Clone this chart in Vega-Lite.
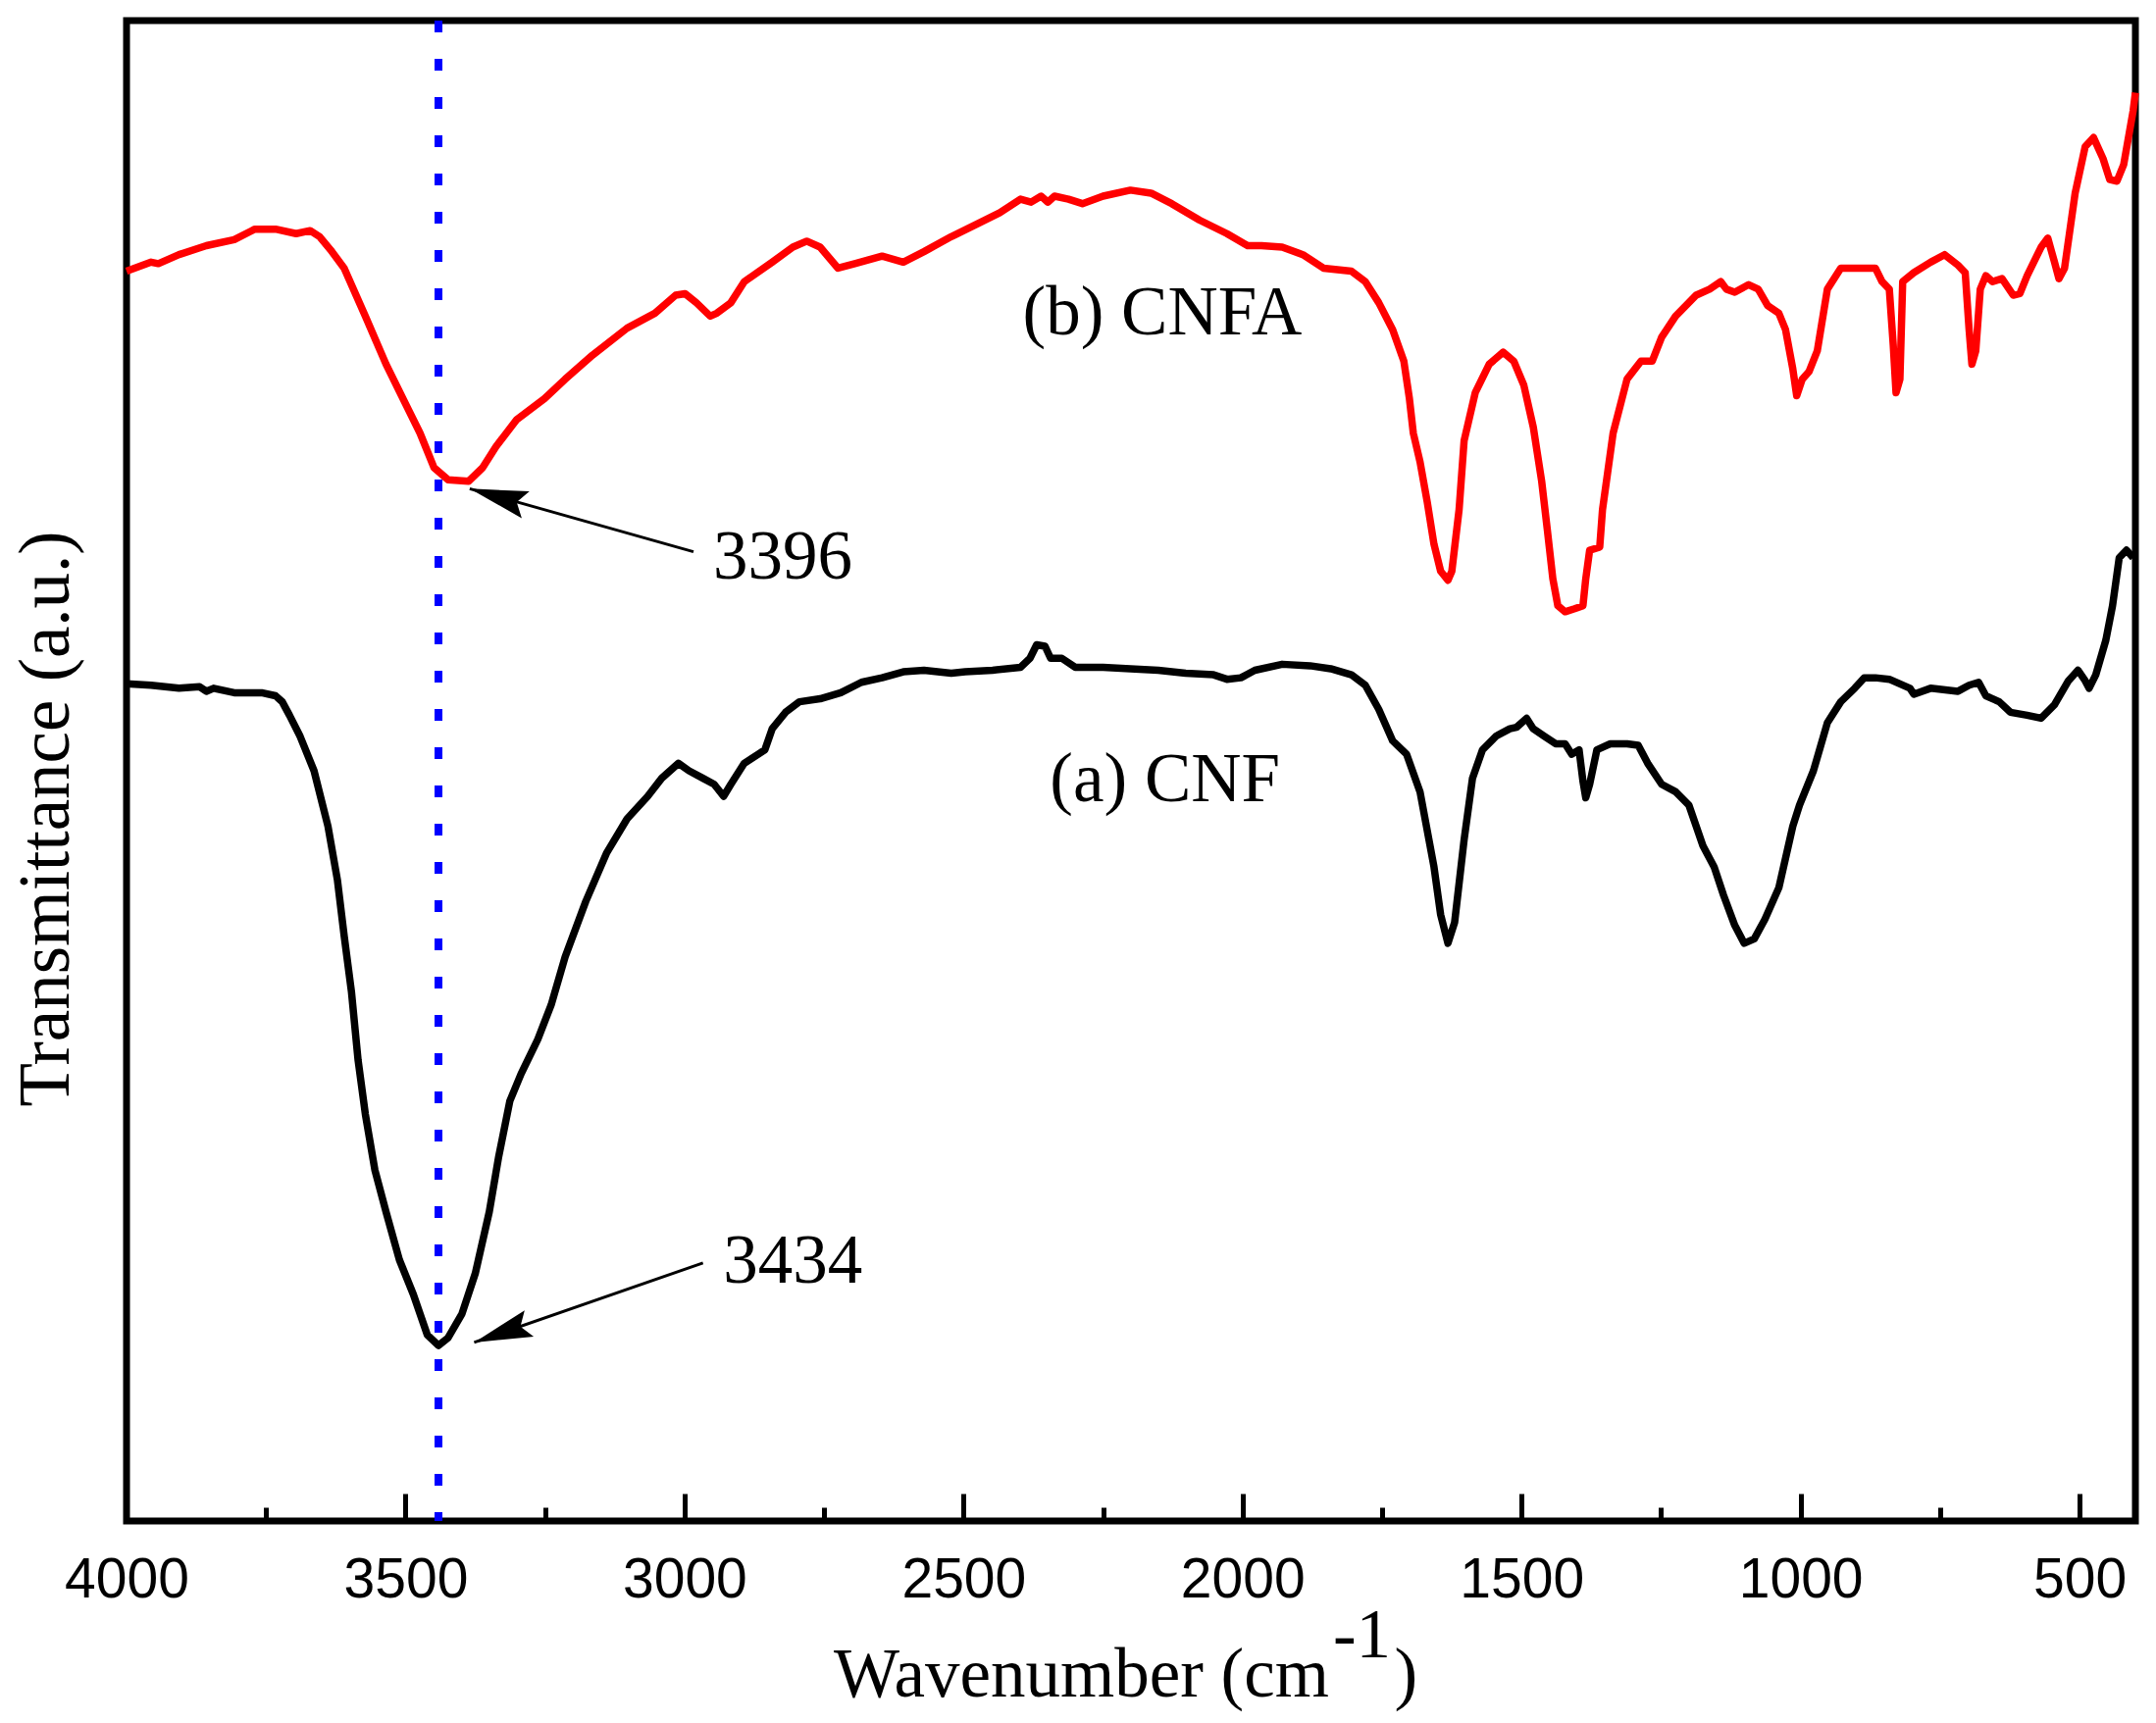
{
  "$schema": "https://vega.github.io/schema/vega-lite/v6.json",
  "description": "FTIR spectra of CNF and CNFA",
  "width": 2048,
  "height": 1530,
  "autosize": {"type": "none"},
  "padding": {"left": 129, "top": 21, "right": 21, "bottom": 206},
  "background": "white",
  "datasets": {
    "cnfa": [
      {"wn": 4000, "t": 83.3}, {"wn": 3956, "t": 83.9}, {"wn": 3943, "t": 83.8}, {"wn": 3906, "t": 84.4},
      {"wn": 3857, "t": 85.0}, {"wn": 3807, "t": 85.4}, {"wn": 3770, "t": 86.1}, {"wn": 3733, "t": 86.1},
      {"wn": 3696, "t": 85.8}, {"wn": 3671, "t": 86.0}, {"wn": 3654, "t": 85.6}, {"wn": 3634, "t": 84.7},
      {"wn": 3610, "t": 83.5}, {"wn": 3572, "t": 80.3}, {"wn": 3535, "t": 77.1}, {"wn": 3498, "t": 74.3},
      {"wn": 3474, "t": 72.5}, {"wn": 3449, "t": 70.2}, {"wn": 3424, "t": 69.4}, {"wn": 3387, "t": 69.3},
      {"wn": 3362, "t": 70.2}, {"wn": 3338, "t": 71.6}, {"wn": 3301, "t": 73.4}, {"wn": 3251, "t": 74.8},
      {"wn": 3214, "t": 76.1}, {"wn": 3165, "t": 77.7}, {"wn": 3103, "t": 79.5}, {"wn": 3053, "t": 80.5},
      {"wn": 3016, "t": 81.7}, {"wn": 2999, "t": 81.8}, {"wn": 2979, "t": 81.2}, {"wn": 2954, "t": 80.3},
      {"wn": 2942, "t": 80.5}, {"wn": 2917, "t": 81.2}, {"wn": 2893, "t": 82.6}, {"wn": 2843, "t": 83.9},
      {"wn": 2806, "t": 84.9}, {"wn": 2781, "t": 85.3}, {"wn": 2757, "t": 84.9}, {"wn": 2725, "t": 83.5},
      {"wn": 2695, "t": 83.8}, {"wn": 2646, "t": 84.3}, {"wn": 2608, "t": 83.9}, {"wn": 2571, "t": 84.6},
      {"wn": 2522, "t": 85.6}, {"wn": 2473, "t": 86.5}, {"wn": 2435, "t": 87.2}, {"wn": 2398, "t": 88.1},
      {"wn": 2379, "t": 87.9}, {"wn": 2361, "t": 88.3}, {"wn": 2349, "t": 87.9}, {"wn": 2337, "t": 88.3},
      {"wn": 2312, "t": 88.1}, {"wn": 2287, "t": 87.8}, {"wn": 2250, "t": 88.3}, {"wn": 2201, "t": 88.7},
      {"wn": 2164, "t": 88.5}, {"wn": 2127, "t": 87.8}, {"wn": 2077, "t": 86.7}, {"wn": 2028, "t": 85.8},
      {"wn": 1991, "t": 85.0}, {"wn": 1966, "t": 85.0}, {"wn": 1929, "t": 84.9}, {"wn": 1892, "t": 84.4},
      {"wn": 1855, "t": 83.5}, {"wn": 1805, "t": 83.3}, {"wn": 1780, "t": 82.6}, {"wn": 1756, "t": 81.2},
      {"wn": 1731, "t": 79.4}, {"wn": 1711, "t": 77.3}, {"wn": 1701, "t": 74.8}, {"wn": 1694, "t": 72.5},
      {"wn": 1682, "t": 70.6}, {"wn": 1669, "t": 67.9}, {"wn": 1657, "t": 65.1}, {"wn": 1645, "t": 63.3},
      {"wn": 1632, "t": 62.7}, {"wn": 1625, "t": 63.3}, {"wn": 1612, "t": 67.4}, {"wn": 1603, "t": 72.0},
      {"wn": 1583, "t": 75.2}, {"wn": 1558, "t": 77.1}, {"wn": 1533, "t": 77.9}, {"wn": 1514, "t": 77.3},
      {"wn": 1496, "t": 75.7}, {"wn": 1479, "t": 72.9}, {"wn": 1464, "t": 69.3}, {"wn": 1454, "t": 66.1},
      {"wn": 1444, "t": 62.8}, {"wn": 1435, "t": 61.0}, {"wn": 1422, "t": 60.6}, {"wn": 1405, "t": 60.8},
      {"wn": 1390, "t": 61.0}, {"wn": 1385, "t": 62.8}, {"wn": 1378, "t": 64.7}, {"wn": 1360, "t": 64.9},
      {"wn": 1355, "t": 67.4}, {"wn": 1336, "t": 72.5}, {"wn": 1311, "t": 76.1}, {"wn": 1286, "t": 77.3},
      {"wn": 1266, "t": 77.3}, {"wn": 1249, "t": 78.9}, {"wn": 1224, "t": 80.3}, {"wn": 1187, "t": 81.7},
      {"wn": 1163, "t": 82.1}, {"wn": 1143, "t": 82.6}, {"wn": 1133, "t": 82.1}, {"wn": 1118, "t": 81.9},
      {"wn": 1093, "t": 82.4}, {"wn": 1076, "t": 82.1}, {"wn": 1059, "t": 81.0}, {"wn": 1039, "t": 80.5},
      {"wn": 1027, "t": 79.4}, {"wn": 1014, "t": 76.8}, {"wn": 1007, "t": 75.0}, {"wn": 997, "t": 76.1},
      {"wn": 985, "t": 76.6}, {"wn": 970, "t": 78.0}, {"wn": 952, "t": 82.1}, {"wn": 928, "t": 83.5},
      {"wn": 891, "t": 83.5}, {"wn": 866, "t": 83.5}, {"wn": 854, "t": 82.6}, {"wn": 841, "t": 82.1},
      {"wn": 834, "t": 78.4}, {"wn": 829, "t": 75.2}, {"wn": 822, "t": 76.1}, {"wn": 817, "t": 82.6},
      {"wn": 797, "t": 83.2}, {"wn": 767, "t": 83.9}, {"wn": 742, "t": 84.4}, {"wn": 718, "t": 83.7},
      {"wn": 705, "t": 83.2}, {"wn": 698, "t": 79.4}, {"wn": 693, "t": 77.1}, {"wn": 686, "t": 78.0},
      {"wn": 678, "t": 82.1}, {"wn": 668, "t": 83.0}, {"wn": 656, "t": 82.6}, {"wn": 639, "t": 82.8},
      {"wn": 619, "t": 81.7}, {"wn": 607, "t": 81.8}, {"wn": 594, "t": 83.0}, {"wn": 569, "t": 84.9},
      {"wn": 557, "t": 85.5}, {"wn": 545, "t": 83.9}, {"wn": 537, "t": 82.8}, {"wn": 527, "t": 83.5},
      {"wn": 508, "t": 88.5}, {"wn": 490, "t": 91.6}, {"wn": 475, "t": 92.2}, {"wn": 458, "t": 90.8},
      {"wn": 446, "t": 89.4}, {"wn": 433, "t": 89.3}, {"wn": 421, "t": 90.4}, {"wn": 404, "t": 94.0},
      {"wn": 400, "t": 95.2}
    ],
    "cnf": [
      {"wn": 4000, "t": 55.8}, {"wn": 3956, "t": 55.7}, {"wn": 3906, "t": 55.5}, {"wn": 3869, "t": 55.6},
      {"wn": 3857, "t": 55.3}, {"wn": 3844, "t": 55.5}, {"wn": 3807, "t": 55.2}, {"wn": 3758, "t": 55.2},
      {"wn": 3733, "t": 55.0}, {"wn": 3721, "t": 54.6}, {"wn": 3708, "t": 53.7}, {"wn": 3689, "t": 52.3},
      {"wn": 3664, "t": 50.0}, {"wn": 3639, "t": 46.3}, {"wn": 3622, "t": 42.7}, {"wn": 3610, "t": 39.0},
      {"wn": 3597, "t": 35.3}, {"wn": 3585, "t": 30.7}, {"wn": 3572, "t": 27.1}, {"wn": 3555, "t": 23.4},
      {"wn": 3535, "t": 20.6}, {"wn": 3511, "t": 17.4}, {"wn": 3486, "t": 15.1}, {"wn": 3461, "t": 12.4},
      {"wn": 3441, "t": 11.7}, {"wn": 3424, "t": 12.2}, {"wn": 3399, "t": 13.8}, {"wn": 3375, "t": 16.5},
      {"wn": 3350, "t": 20.6}, {"wn": 3333, "t": 24.3}, {"wn": 3313, "t": 28.0}, {"wn": 3293, "t": 29.8},
      {"wn": 3263, "t": 32.1}, {"wn": 3239, "t": 34.4}, {"wn": 3214, "t": 37.6}, {"wn": 3177, "t": 41.3},
      {"wn": 3140, "t": 44.5}, {"wn": 3103, "t": 46.8}, {"wn": 3066, "t": 48.3}, {"wn": 3041, "t": 49.5},
      {"wn": 3011, "t": 50.5}, {"wn": 2992, "t": 50.0}, {"wn": 2967, "t": 49.5}, {"wn": 2947, "t": 49.1},
      {"wn": 2930, "t": 48.3}, {"wn": 2917, "t": 49.1}, {"wn": 2893, "t": 50.5}, {"wn": 2868, "t": 51.1},
      {"wn": 2856, "t": 51.4}, {"wn": 2843, "t": 52.8}, {"wn": 2819, "t": 53.9}, {"wn": 2794, "t": 54.6},
      {"wn": 2757, "t": 54.8}, {"wn": 2720, "t": 55.2}, {"wn": 2683, "t": 55.9}, {"wn": 2646, "t": 56.2},
      {"wn": 2608, "t": 56.6}, {"wn": 2571, "t": 56.7}, {"wn": 2522, "t": 56.5}, {"wn": 2497, "t": 56.6},
      {"wn": 2448, "t": 56.7}, {"wn": 2398, "t": 56.9}, {"wn": 2381, "t": 57.5}, {"wn": 2369, "t": 58.4},
      {"wn": 2354, "t": 58.3}, {"wn": 2344, "t": 57.5}, {"wn": 2324, "t": 57.5}, {"wn": 2300, "t": 56.9},
      {"wn": 2250, "t": 56.9}, {"wn": 2201, "t": 56.8}, {"wn": 2151, "t": 56.7}, {"wn": 2102, "t": 56.5},
      {"wn": 2052, "t": 56.4}, {"wn": 2028, "t": 56.1}, {"wn": 2003, "t": 56.2}, {"wn": 1978, "t": 56.7},
      {"wn": 1929, "t": 57.1}, {"wn": 1879, "t": 57.0}, {"wn": 1842, "t": 56.8}, {"wn": 1805, "t": 56.4},
      {"wn": 1780, "t": 55.7}, {"wn": 1756, "t": 54.1}, {"wn": 1731, "t": 52.0}, {"wn": 1706, "t": 51.1},
      {"wn": 1682, "t": 48.6}, {"wn": 1657, "t": 43.6}, {"wn": 1645, "t": 40.4}, {"wn": 1632, "t": 38.5},
      {"wn": 1620, "t": 39.9}, {"wn": 1603, "t": 45.4}, {"wn": 1588, "t": 49.5}, {"wn": 1570, "t": 51.4},
      {"wn": 1546, "t": 52.3}, {"wn": 1521, "t": 52.8}, {"wn": 1509, "t": 52.9}, {"wn": 1491, "t": 53.5},
      {"wn": 1479, "t": 52.8}, {"wn": 1459, "t": 52.3}, {"wn": 1439, "t": 51.8}, {"wn": 1422, "t": 51.8},
      {"wn": 1410, "t": 51.1}, {"wn": 1397, "t": 51.4}, {"wn": 1390, "t": 49.3}, {"wn": 1385, "t": 48.2},
      {"wn": 1378, "t": 49.1}, {"wn": 1365, "t": 51.4}, {"wn": 1341, "t": 51.8}, {"wn": 1311, "t": 51.8},
      {"wn": 1291, "t": 51.7}, {"wn": 1274, "t": 50.5}, {"wn": 1249, "t": 49.1}, {"wn": 1224, "t": 48.6},
      {"wn": 1200, "t": 47.7}, {"wn": 1175, "t": 45.0}, {"wn": 1155, "t": 43.6}, {"wn": 1138, "t": 41.7},
      {"wn": 1118, "t": 39.7}, {"wn": 1101, "t": 38.5}, {"wn": 1083, "t": 38.8}, {"wn": 1064, "t": 40.1},
      {"wn": 1039, "t": 42.2}, {"wn": 1014, "t": 46.3}, {"wn": 1002, "t": 47.7}, {"wn": 977, "t": 50.0},
      {"wn": 952, "t": 53.2}, {"wn": 928, "t": 54.6}, {"wn": 903, "t": 55.5}, {"wn": 886, "t": 56.2},
      {"wn": 866, "t": 56.2}, {"wn": 841, "t": 56.1}, {"wn": 804, "t": 55.5}, {"wn": 797, "t": 55.1},
      {"wn": 767, "t": 55.5}, {"wn": 718, "t": 55.3}, {"wn": 698, "t": 55.7}, {"wn": 681, "t": 55.9},
      {"wn": 668, "t": 55.0}, {"wn": 644, "t": 54.6}, {"wn": 624, "t": 53.9}, {"wn": 594, "t": 53.7},
      {"wn": 569, "t": 53.5}, {"wn": 545, "t": 54.4}, {"wn": 520, "t": 56.0}, {"wn": 503, "t": 56.7},
      {"wn": 490, "t": 56.0}, {"wn": 483, "t": 55.5}, {"wn": 471, "t": 56.4}, {"wn": 453, "t": 58.7},
      {"wn": 441, "t": 61.0}, {"wn": 429, "t": 64.2}, {"wn": 416, "t": 64.7}, {"wn": 404, "t": 64.2}
    ],
    "marker": [{"wn": 3441}],
    "arrows": [
      {"peak": "3396", "wn": 2984, "t": 64.6, "wn2": 3385, "t2": 68.8},
      {"peak": "3434", "wn": 2967, "t": 17.2, "wn2": 3377, "t2": 11.9}
    ],
    "notes": [
      {"text": "(b) CNFA", "wn": 2144, "t": 79.1},
      {"text": "(a) CNF", "wn": 2139, "t": 48.0},
      {"text": "3396", "wn": 2824, "t": 62.8},
      {"text": "3434", "wn": 2806, "t": 15.9}
    ],
    "ytitle": [{"text": "Transmittance (a.u.)", "wn": 4104, "t": 46.8}],
    "xtitle": [{"text": "Wavenumber (cm", "wn": 1845, "t": -11.7}],
    "xtitle_sup": [
      {"text": "-1", "wn": 1838, "t": -9.1}
    ],
    "xtitle_end": [
      {"text": ")", "wn": 1728, "t": -11.7}
    ]
  },
  "layer": [
    {
      "data": {"name": "cnfa"},
      "mark": {"type": "line", "color": "#ff0000", "strokeWidth": 7.5, "strokeJoin": "round"},
      "encoding": {
        "x": {
          "field": "wn",
          "type": "quantitative",
          "scale": {"domain": [4000, 400], "nice": false, "zero": false},
          "axis": {
            "orient": "bottom",
            "values": [4000, 3500, 3000, 2500, 2000, 1500, 1000, 500],
            "format": "d",
            "tickSize": -28,
            "tickWidth": 5,
            "tickColor": "black",
            "domain": false,
            "grid": false,
            "labelFont": "Liberation Sans",
            "labelFontSize": 57,
            "labelColor": "black",
            "labelPadding": 60,
            "labelFlush": false,
            "labelOverlap": false,
            "labelBound": false,
            "title": null
          }
        },
        "y": {
          "field": "t",
          "type": "quantitative",
          "scale": {"domain": [0, 100], "nice": false, "zero": false},
          "axis": null
        }
      }
    },
    {
      "data": {"name": "cnf"},
      "mark": {"type": "line", "color": "#000000", "strokeWidth": 7.5, "strokeJoin": "round"},
      "encoding": {
        "x": {
          "field": "wn",
          "type": "quantitative",
          "axis": {
            "orient": "bottom",
            "values": [3750, 3250, 2750, 2250, 1750, 1250, 750],
            "tickSize": -14,
            "tickWidth": 5,
            "tickColor": "black",
            "labels": false,
            "domain": false,
            "grid": false,
            "title": null
          }
        },
        "y": {"field": "t", "type": "quantitative", "axis": null}
      }
    },
    {
      "data": {"name": "marker"},
      "mark": {"type": "rule", "color": "#0000ff", "strokeWidth": 8, "strokeDash": [12, 27], "strokeCap": "butt"},
      "encoding": {
        "x": {"field": "wn", "type": "quantitative", "axis": null}
      }
    },
    {
      "data": {"name": "arrows"},
      "mark": {"type": "rule", "color": "black", "strokeWidth": 3},
      "encoding": {
        "x": {"field": "wn", "type": "quantitative", "axis": null},
        "y": {"field": "t", "type": "quantitative", "axis": null},
        "x2": {"field": "wn2"},
        "y2": {"field": "t2"}
      }
    },
    {
      "data": {"name": "arrows"},
      "transform": [{"filter": "datum.peak == '3396'"}],
      "mark": {"type": "point", "shape": "M0,0L0.3,1.25L0,1.05L-0.3,1.25Z", "filled": true, "color": "black", "opacity": 1, "size": 9000, "angle": 286},
      "encoding": {
        "x": {"field": "wn2", "type": "quantitative", "axis": null},
        "y": {"field": "t2", "type": "quantitative", "axis": null}
      }
    },
    {
      "data": {"name": "arrows"},
      "transform": [{"filter": "datum.peak == '3434'"}],
      "mark": {"type": "point", "shape": "M0,0L0.3,1.25L0,1.05L-0.3,1.25Z", "filled": true, "color": "black", "opacity": 1, "size": 9000, "angle": 251},
      "encoding": {
        "x": {"field": "wn2", "type": "quantitative", "axis": null},
        "y": {"field": "t2", "type": "quantitative", "axis": null}
      }
    },
    {
      "data": {"name": "notes"},
      "mark": {"type": "text", "font": "Liberation Serif", "fontSize": 71, "color": "black", "align": "center", "baseline": "alphabetic"},
      "encoding": {
        "x": {"field": "wn", "type": "quantitative", "axis": null},
        "y": {"field": "t", "type": "quantitative", "axis": null},
        "text": {"field": "text"}
      }
    },
    {
      "data": {"name": "ytitle"},
      "mark": {"type": "text", "font": "Liberation Serif", "fontSize": 73, "color": "black", "align": "center", "baseline": "alphabetic", "angle": 270},
      "encoding": {
        "x": {"field": "wn", "type": "quantitative", "axis": null},
        "y": {"field": "t", "type": "quantitative", "axis": null},
        "text": {"field": "text"}
      }
    },
    {
      "data": {"name": "xtitle"},
      "mark": {"type": "text", "font": "Liberation Serif", "fontSize": 71, "color": "black", "align": "right", "baseline": "alphabetic"},
      "encoding": {
        "x": {"field": "wn", "type": "quantitative", "axis": null},
        "y": {"field": "t", "type": "quantitative", "axis": null},
        "text": {"field": "text"}
      }
    },
    {
      "data": {"name": "xtitle_sup"},
      "mark": {"type": "text", "font": "Liberation Serif", "fontSize": 71, "color": "black", "align": "left", "baseline": "alphabetic"},
      "encoding": {
        "x": {"field": "wn", "type": "quantitative", "axis": null},
        "y": {"field": "t", "type": "quantitative", "axis": null},
        "text": {"field": "text"}
      }
    },
    {
      "data": {"name": "xtitle_end"},
      "mark": {"type": "text", "font": "Liberation Serif", "fontSize": 71, "color": "black", "align": "left", "baseline": "alphabetic"},
      "encoding": {
        "x": {"field": "wn", "type": "quantitative", "axis": null},
        "y": {"field": "t", "type": "quantitative", "axis": null},
        "text": {"field": "text"}
      }
    }
  ],
  "resolve": {"axis": {"x": "independent"}},
  "config": {
    "view": {"stroke": "black", "strokeWidth": 7}
  }
}
